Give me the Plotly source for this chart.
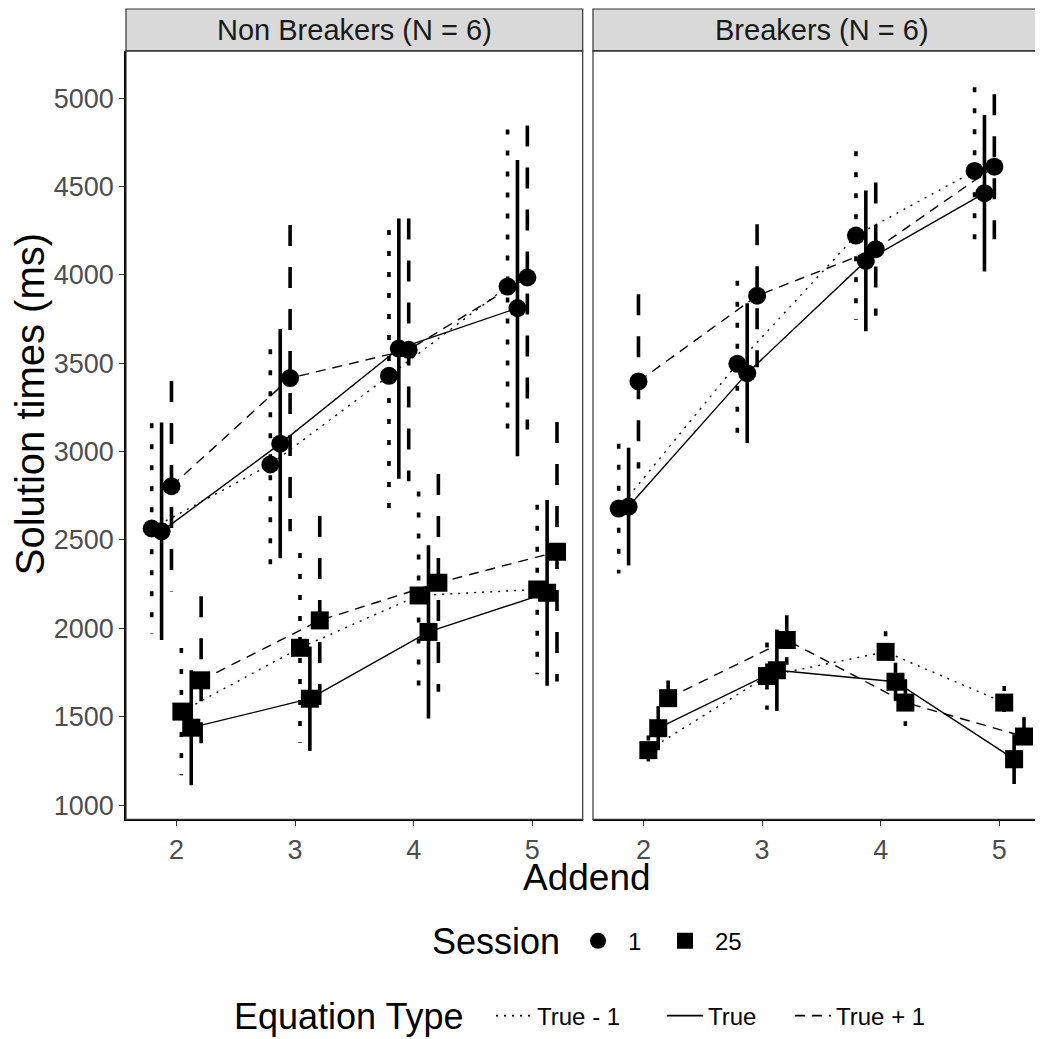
import plotly.graph_objects as go

# ---------------- data ----------------
addends = [2, 3, 4, 5]
eq_types = ["True - 1", "True", "True + 1"]
sessions = ["1", "25"]
panels = ["Non Breakers (N = 6)", "Breakers (N = 6)"]

# Non Breakers, Session 1
nb_s1_tm1_mean = [2565, 2927, 3429, 3934]
nb_s1_tm1_se = [595, 652, 825, 889]
nb_s1_t_mean = [2549, 3045, 3583, 3812]
nb_s1_t_se = [615, 649, 736, 838]
nb_s1_tp1_mean = [2804, 3416, 3576, 3985]
nb_s1_tp1_se = [595, 866, 743, 860]
# Non Breakers, Session 25
nb_s25_tm1_mean = [1529, 1890, 2186, 2220]
nb_s25_tm1_se = [360, 537, 588, 480]
nb_s25_t_mean = [1438, 1602, 1980, 2201]
nb_s25_t_se = [325, 295, 490, 525]
nb_s25_tp1_mean = [1706, 2045, 2258, 2433]
nb_s25_tp1_se = [475, 590, 616, 734]
# Breakers, Session 1
b_s1_tm1_mean = [2678, 3497, 4222, 4588]
b_s1_tm1_se = [367, 470, 477, 474]
b_s1_t_mean = [2689, 3444, 4079, 4462]
b_s1_t_se = [333, 395, 398, 443]
b_s1_tp1_mean = [3397, 3882, 4145, 4612]
b_s1_tp1_se = [493, 405, 377, 410]
# Breakers, Session 25
b_s25_tm1_mean = [1311, 1730, 1867, 1580]
b_s25_tm1_se = [83, 190, 117, 94]
b_s25_t_mean = [1435, 1763, 1698, 1260]
b_s25_t_se = [125, 230, 108, 141]
b_s25_tp1_mean = [1605, 1934, 1580, 1388]
b_s25_tp1_se = [100, 140, 132, 110]

y_ticks = [1000, 1500, 2000, 2500, 3000, 3500, 4000, 4500, 5000]

data = {
    (0, "1"): [(nb_s1_tm1_mean, nb_s1_tm1_se), (nb_s1_t_mean, nb_s1_t_se), (nb_s1_tp1_mean, nb_s1_tp1_se)],
    (0, "25"): [(nb_s25_tm1_mean, nb_s25_tm1_se), (nb_s25_t_mean, nb_s25_t_se), (nb_s25_tp1_mean, nb_s25_tp1_se)],
    (1, "1"): [(b_s1_tm1_mean, b_s1_tm1_se), (b_s1_t_mean, b_s1_t_se), (b_s1_tp1_mean, b_s1_tp1_se)],
    (1, "25"): [(b_s25_tm1_mean, b_s25_tm1_se), (b_s25_t_mean, b_s25_t_se), (b_s25_tp1_mean, b_s25_tp1_se)],
}

# ---------------- styling ----------------
PAGE_OFF = 8                      # default body margin of the html page
W, H = 1043 - PAGE_OFF, 1039 - PAGE_OFF
FONT = "Liberation Sans, Arial, Helvetica, sans-serif"
bar_dash = {"True - 1": "5px,16px", "True": "solid", "True + 1": "21px,21px"}
line_dash = {"True - 1": "2px,6px", "True": "solid", "True + 1": "10px,7px"}
symbols = {"1": "circle", "25": "square"}


def PX(x):
    return (x - PAGE_OFF) / W


def PY(y):
    return 1 - (y - PAGE_OFF) / H


dodge_width = 0.5
n_groups = 6
offsets = [-dodge_width / 2 + dodge_width / n_groups * (k + 0.5) for k in range(n_groups)]

fig = go.Figure()

for p in range(2):
    xa = "x" if p == 0 else "x2"
    ya = "y" if p == 0 else "y2"
    for si, s in enumerate(sessions):
        for ei, et in enumerate(eq_types):
            mean, se = data[(p, s)][ei]
            off = offsets[si * 3 + ei]
            xs = [a + off for a in addends]
            fig.add_trace(go.Scatter(x=xs, y=mean, mode="lines", xaxis=xa, yaxis=ya,
                                     line=dict(color="black", width=1.4, dash=line_dash[et]),
                                     showlegend=False, hoverinfo="skip"))
    for si, s in enumerate(sessions):
        for ei, et in enumerate(eq_types):
            mean, se = data[(p, s)][ei]
            off = offsets[si * 3 + ei]
            ex, ey = [], []
            for a, m, e in zip(addends, mean, se):
                ex += [a + off, a + off, None]
                ey += [m + e, m - e, None]
            fig.add_trace(go.Scatter(x=ex, y=ey, mode="lines", xaxis=xa, yaxis=ya,
                                     line=dict(color="black", width=3.6, dash=bar_dash[et]),
                                     showlegend=False, hoverinfo="skip"))
    for si, s in enumerate(sessions):
        for ei, et in enumerate(eq_types):
            mean, se = data[(p, s)][ei]
            off = offsets[si * 3 + ei]
            xs = [a + off for a in addends]
            fig.add_trace(go.Scatter(x=xs, y=mean, mode="markers", xaxis=xa, yaxis=ya,
                                     marker=dict(symbol=symbols[s], size=18, color="black"),
                                     showlegend=False))

# legend entries: one small legend per entry so each can be placed like the reference
session_leg_x = [568, 655]      # left edge of each session entry (px)
eq_leg_x = [491, 662, 790]      # left edge of each equation-type entry (px)
legend_defs = {}
li = 1
for s, lx in zip(sessions, session_leg_x):
    name = "legend" if li == 1 else f"legend{li}"
    fig.add_trace(go.Scatter(x=[None], y=[None], mode="markers", name=s,
                             marker=dict(symbol=symbols[s], size=16, color="black"),
                             legend=name))
    legend_defs[name] = dict(x=PX(lx), y=PY(943), iw=50)
    li += 1
for et, lx in zip(eq_types, eq_leg_x):
    name = f"legend{li}"
    fig.add_trace(go.Scatter(x=[None], y=[None], mode="lines", name=et,
                             line=dict(color="black", width=1.6, dash=line_dash[et]),
                             legend=name))
    legend_defs[name] = dict(x=PX(lx), y=PY(1018), iw=36)
    li += 1

for name, pos in legend_defs.items():
    fig.update_layout({name: dict(orientation="h", x=pos["x"], xanchor="left", y=pos["y"],
                                  yanchor="middle", font=dict(family=FONT, size=24, color="black"),
                                  itemwidth=pos["iw"], bgcolor="rgba(0,0,0,0)", borderwidth=0)})

left_dom = [PX(126), PX(582.7)]
right_dom = [PX(593), 1.0]
y_dom = [PY(821), PY(51)]
ppu = (582.7 - 126) / (5.425 - 1.575)
xr_left = [1.575, 5.425]
xr_right = [1.575, 1.575 + (1043 - 593) / ppu]
yr = [919, 5267]

axis_common = dict(showgrid=False, zeroline=False, ticks="outside", ticklen=5,
                   tickcolor="#333333", tickwidth=1.2,
                   tickfont=dict(family=FONT, size=27, color="#4D4D4D"))

fig.update_layout(
    width=W, height=H, margin=dict(l=0, r=0, t=0, b=0),
    plot_bgcolor="white", paper_bgcolor="white",
    font=dict(family=FONT, color="black"),
    xaxis=dict(domain=left_dom, range=xr_left, tickvals=addends, anchor="y",
               showline=True, linecolor="black", linewidth=1.5, **axis_common),
    xaxis2=dict(domain=right_dom, range=xr_right, tickvals=addends, anchor="y2",
                showline=True, linecolor="black", linewidth=1.5, **axis_common),
    yaxis=dict(domain=y_dom, range=yr, tickvals=y_ticks, anchor="x",
               showline=True, linecolor="black", linewidth=1.5, **axis_common),
    yaxis2=dict(domain=y_dom, range=yr, tickvals=y_ticks, anchor="x2", matches="y",
                showticklabels=False, ticks="", showgrid=False, zeroline=False),
)

shapes = []
for i, dom in enumerate((left_dom, right_dom)):
    x1 = dom[1] if i == 0 else 1.02   # right panel runs off the picture's edge
    shapes.append(dict(type="rect", xref="paper", yref="paper", x0=dom[0], x1=x1,
                       y0=PY(51), y1=PY(9), fillcolor="#D9D9D9",
                       line=dict(color="#333333", width=1.2), layer="below"))
    shapes.append(dict(type="rect", xref="paper", yref="paper", x0=dom[0], x1=x1,
                       y0=y_dom[0], y1=y_dom[1], line=dict(color="#333333", width=1.2),
                       fillcolor="rgba(0,0,0,0)", layer="above"))
fig.update_layout(shapes=shapes)

annotations = []
for dom, label in zip((left_dom, [right_dom[0], PX(1050)]), panels):
    annotations.append(dict(text=label, xref="paper", yref="paper", x=(dom[0] + dom[1]) / 2,
                            y=PY(30), showarrow=False, xanchor="center", yanchor="middle",
                            font=dict(family=FONT, size=29, color="#1A1A1A")))
annotations.append(dict(text="Addend", xref="paper", yref="paper", x=PX(587), y=PY(879),
                        showarrow=False, xanchor="center", yanchor="middle",
                        font=dict(family=FONT, size=37, color="black")))
annotations.append(dict(text="Solution times (ms)", xref="paper", yref="paper", x=PX(30),
                        y=PY(405), showarrow=False, textangle=-90, xanchor="center",
                        yanchor="middle", font=dict(family=FONT, size=40, color="black")))
annotations.append(dict(text="Session", xref="paper", yref="paper", x=PX(496), y=PY(943),
                        showarrow=False, xanchor="center", yanchor="middle",
                        font=dict(family=FONT, size=36, color="black")))
annotations.append(dict(text="Equation Type", xref="paper", yref="paper", x=PX(349), y=PY(1018),
                        showarrow=False, xanchor="center", yanchor="middle",
                        font=dict(family=FONT, size=36, color="black")))
fig.update_layout(annotations=annotations)

fig.write_html("out.html")
